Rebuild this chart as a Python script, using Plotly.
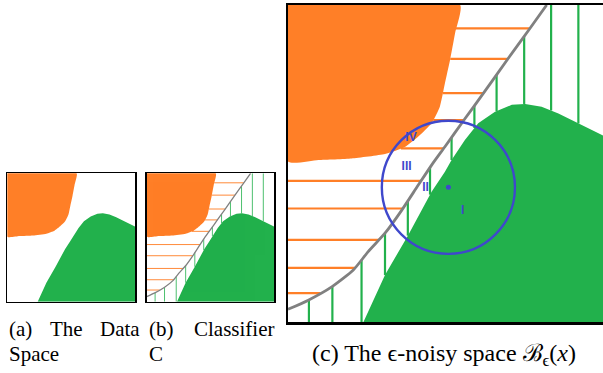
import numpy as np
import plotly.graph_objects as go

# ---- data (unit square coordinates, u to the right, v upward) ----
orange_u = [0.543, 0.527, 0.511, 0.495, 0.479, 0.453, 0.411, 0.370, 0.306, 0.201, 0.096, 0.0]
orange_v = [1.0, 0.911, 0.826, 0.753, 0.679, 0.627, 0.585, 0.553, 0.530, 0.516, 0.511, 0.506]

green_u = [0.238, 0.306, 0.379, 0.453, 0.495, 0.516, 0.558, 0.600, 0.653, 0.706, 0.748, 0.800, 0.853, 0.916, 0.994, 1.0]
green_v = [0.0, 0.148, 0.274, 0.411, 0.474, 0.511, 0.574, 0.627, 0.663, 0.685, 0.688, 0.679, 0.658, 0.626, 0.588, 0.585]

gray_u = [0.0, 0.064, 0.138, 0.206, 0.253, 0.306, 0.359, 0.411, 0.453, 0.495, 0.558, 0.611, 0.695, 0.763, 0.816]
gray_v = [0.040, 0.069, 0.111, 0.164, 0.222, 0.280, 0.353, 0.432, 0.495, 0.553, 0.641, 0.714, 0.832, 0.926, 1.0]

hatch_v = [0.926, 0.830, 0.722, 0.637, 0.548, 0.445, 0.358, 0.259, 0.171, 0.091]
hatch_u = [0.066, 0.140, 0.232, 0.306, 0.378, 0.448, 0.516, 0.588, 0.658, 0.745, 0.830, 0.916]

ball_center = (0.506, 0.425)
ball_radius = 0.21
region_labels = ["<b>IV</b>", "<b>III</b>", "<b>II</b>", "<b>I</b>"]
region_u = [0.388, 0.374, 0.434, 0.551]
region_v = [0.580, 0.490, 0.422, 0.350]

caption_words_ab = ["(a)", "The", "Data", "Space", "(b)", "Classifier", "C"]
caption_c = "(c) The ϵ-noisy space ℬ<sub>ϵ</sub>(<i>x</i>)"

ORANGE = "#FF7F27"
GREEN = "#22B14C"
GRAY = "#808080"
BLUE = "#3F48CC"

W, H = 603, 373


def px(x):
    return x / W


def py(y):
    return 1 - y / H


fig = go.Figure()

panels = {
    "a": dict(xd=[px(7.3), px(135.0)], yd=[py(301.7), py(173.3)], xr=[0, 1], border=1.5),
    "b": dict(xd=[px(146.7), px(274.0)], yd=[py(301.7), py(173.3)], xr=[0, 1], border=1.5),
    "c": dict(xd=[px(288.0), 1.0], yd=[py(322.0), py(5.0)], xr=[0, 315.0 / 317.0], border=2.5),
}
axmap = {"a": ("x", "y"), "b": ("x2", "y2"), "c": ("x3", "y3")}

ov_sorted = orange_v[::-1]
ou_sorted = orange_u[::-1]


def hatch_lines():
    hx, hy = [], []
    for v in hatch_v:
        left = np.interp(v, ov_sorted, ou_sorted) if v >= min(orange_v) else 0.0
        right = np.interp(v, gray_v, gray_u)
        hx += [left, right, None]
        hy += [v, v, None]
    vx, vy = [], []
    for u in hatch_u:
        bottom = np.interp(u, green_u, green_v) if u >= green_u[0] else 0.0
        top = np.interp(u, gray_u, gray_v) if u <= gray_u[-1] else 1.0
        vx += [u, u, None]
        vy += [bottom, top, None]
    return hx, hy, vx, vy


for key, p in panels.items():
    xa, ya = axmap[key]
    fig.add_trace(go.Scatter(
        x=[0.0] + orange_u + [0.0], y=[1.0] + orange_v + [1.0],
        fill="toself", fillcolor=ORANGE, mode="lines", line=dict(width=0, color=ORANGE, shape="spline", smoothing=0.5),
        xaxis=xa, yaxis=ya, hoverinfo="skip", showlegend=False))
    fig.add_trace(go.Scatter(
        x=green_u + [1.0, green_u[0]], y=green_v + [0.0, 0.0],
        fill="toself", fillcolor=GREEN, mode="lines", line=dict(width=0, color=GREEN),
        xaxis=xa, yaxis=ya, hoverinfo="skip", showlegend=False))
    if key in ("b", "c"):
        lw = 1.0 if key == "b" else 2.2
        hx, hy, vx, vy = hatch_lines()
        fig.add_trace(go.Scatter(x=hx, y=hy, mode="lines",
                                 line=dict(color=ORANGE, width=lw),
                                 opacity=0.9 if key == "b" else 1.0,
                                 xaxis=xa, yaxis=ya, hoverinfo="skip", showlegend=False))
        fig.add_trace(go.Scatter(x=vx, y=vy, mode="lines",
                                 line=dict(color=GREEN, width=lw),
                                 opacity=0.8 if key == "b" else 1.0,
                                 xaxis=xa, yaxis=ya, hoverinfo="skip", showlegend=False))
        fig.add_trace(go.Scatter(x=gray_u, y=gray_v, mode="lines",
                                 line=dict(color=GRAY, width=1.3 if key == "b" else 2.8, shape="spline", smoothing=0.6),
                                 xaxis=xa, yaxis=ya, hoverinfo="skip", showlegend=False))
    if key == "c":
        cu, cv = ball_center
        fig.add_shape(type="circle", xref=xa, yref=ya,
                      x0=cu - ball_radius, x1=cu + ball_radius,
                      y0=cv - ball_radius, y1=cv + ball_radius,
                      line=dict(color=BLUE, width=2.4))
        fig.add_trace(go.Scatter(x=[cu], y=[cv], mode="markers",
                                 marker=dict(color=BLUE, size=5),
                                 xaxis=xa, yaxis=ya, hoverinfo="skip", showlegend=False))
        fig.add_trace(go.Scatter(x=region_u, y=region_v, mode="text", text=region_labels,
                                 textfont=dict(family="Liberation Sans", size=12, color=BLUE),
                                 textposition="middle center",
                                 xaxis=xa, yaxis=ya, hoverinfo="skip", showlegend=False))

    axis_kw = dict(showgrid=False, zeroline=False, showticklabels=False, ticks="",
                   showline=True, linecolor="black", linewidth=p["border"])
    n = {"a": "", "b": "2", "c": "3"}[key]
    fig.layout["xaxis" + n] = dict(domain=p["xd"], range=p["xr"], mirror=True,
                                   anchor="y" + n, **axis_kw)
    fig.layout["yaxis" + n] = dict(domain=p["yd"], range=[0, 1], mirror=(key != "c"),
                                   anchor="x" + n, **axis_kw)

# ---- captions ----
cap_font = dict(family="Liberation Serif", size=21, color="black")
ab_pos = [(6.7, 329), (48, 329), (98, 329), (7, 354), (147, 329), (192, 329), (147, 354)]
for txt, (x, y) in zip(caption_words_ab, ab_pos):
    fig.add_annotation(text=txt, x=px(x), y=py(y), xref="paper", yref="paper",
                       xanchor="left", yanchor="middle", showarrow=False, font=cap_font)
fig.add_annotation(text=caption_c, x=px(310), y=py(355), xref="paper", yref="paper",
                   xanchor="left", yanchor="middle", showarrow=False,
                   font=dict(family="Liberation Serif", size=24, color="black"))

fig.update_layout(width=W, height=H, margin=dict(l=0, r=0, t=0, b=0),
                  paper_bgcolor="white", plot_bgcolor="white", showlegend=False)

fig.write_html("out.html", config={"displayModeBar": False, "staticPlot": True},
               post_script="document.body.style.margin='0';document.body.style.overflow='hidden';")
